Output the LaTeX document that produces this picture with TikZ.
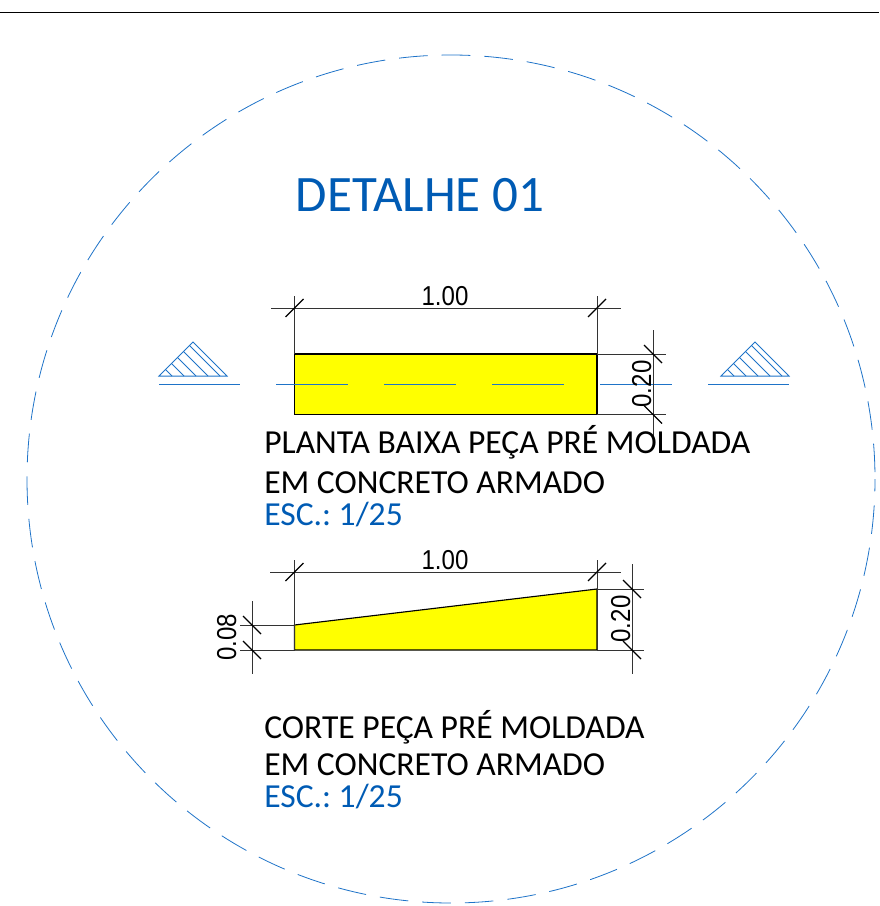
\documentclass[tikz,border=0pt]{standalone}
\usepackage{fontspec}
\setmainfont{Carlito}
\newfontfamily\dimfont{Liberation Sans}
\definecolor{detblue}{RGB}{0,91,180}
\definecolor{linblue}{RGB}{30,115,200}
\definecolor{pecayellow}{RGB}{255,255,0}
\frenchspacing
\tikzset{
	dimline/.style={line width=.7pt,color=black!80},
	tickline/.style={line width=1pt,color=black},
	cutline/.style={line width=.75pt,color=linblue},
	peca/.style={fill=pecayellow,draw=black,line width=.85pt},
	titulo/.style={anchor=base west,font=\fontsize{25.2}{28}\selectfont,inner sep=0pt},
	escala/.style={anchor=base west,font=\fontsize{25.2}{28}\selectfont,inner sep=0pt,text=detblue},
	cota/.style={font=\dimfont\fontsize{20.5}{22}\selectfont,inner sep=0pt,xscale=.88}
}
\begin{document}
\begin{tikzpicture}[x=.75pt,y=-.75pt]
\useasboundingbox (0,0) rectangle (879,906);
\draw[line width=.75pt,color=black] (0,12.5)--(879,12.5);
\draw[line width=.6pt,color=linblue,dash pattern=on 21.5pt off 10.5pt,dash phase=26.9pt] (451,479) circle[radius=318pt];
\node[anchor=base,font=\fontsize{38.3}{44}\selectfont,text=detblue,inner sep=0pt] (detalhe) at (420,211){DETALHE 01};
% cut marks
\foreach \xa/\name in {159/esq,721/dir}{
	\draw[cutline] (\xa,376)--(\xa+34,342)--(\xa+68,376)--cycle;
	\foreach \i in {13,25,37,49,61}{
		\draw[cutline,line width=.6pt] (\xa+\i,376)--(\xa+\i/2,376-\i/2);
	}
}
\draw[cutline] (159,384.5)--(240,384.5);
\draw[cutline] (708,384.5)--(789,384.5);
% plan
\draw[peca] (294.5,354) rectangle (597,414.5);
\foreach \xa in {276,384,492,600}{
	\draw[cutline] (\xa,384.5)--(\xa+72,384.5);
}
\draw[dimline] (271,308)--(621,308);
\draw[dimline] (294.5,296)--(294.5,354);
\draw[dimline] (597,296)--(597,354);
\draw[dimline] (597,354)--(666,354);
\draw[dimline] (597,414.5)--(666,414.5);
\draw[dimline] (653,330)--(653,438);
\foreach \xa/\ya in {294.5/308,597/308}{
	\draw[tickline] (\xa-9,\ya+9)--(\xa+9,\ya-9);
}
\foreach \xa/\ya in {653/354,653/414.5}{
	\draw[tickline] (\xa-9,\ya-9)--(\xa+9,\ya+9);
}
\node[cota,anchor=base] (plantaw) at (445,305){1.00};
\node[rotate=90,cota,anchor=base] (plantah) at (651,384){0.20};
\node[titulo] (plantaa) at (264,453.5){PLANTA BAIXA PEÇA PRÉ MOLDADA};
\node[titulo] (plantab) at (264,493.5){EM CONCRETO ARMADO};
\node[escala] (plantac) at (264,525.5){ESC.: 1/25};
% section
\draw[peca] (294.5,625)--(597,589)--(597,650)--(294.5,650)--cycle;
\draw[dimline] (270,572)--(621,572);
\draw[dimline] (294.5,560)--(294.5,650);
\draw[dimline] (597,560)--(597,650);
\draw[dimline] (597,589)--(644,589);
\draw[dimline] (597,650)--(644,650);
\draw[dimline] (632,564)--(632,674);
\draw[dimline] (240,625)--(294.5,625);
\draw[dimline] (240,650)--(294.5,650);
\draw[dimline] (252,601)--(252,674);
\foreach \xa/\ya in {294.5/572,597/572}{
	\draw[tickline] (\xa-9,\ya+9)--(\xa+9,\ya-9);
}
\foreach \xa/\ya in {632/589,632/650,252/625,252/650}{
	\draw[tickline] (\xa-9,\ya-9)--(\xa+9,\ya+9);
}
\node[cota,anchor=base] (cortew) at (445,569){1.00};
\node[rotate=90,cota,anchor=base] (corteh) at (630,619){0.20};
\node[rotate=90,cota,anchor=base] (cortep) at (236,637.5){0.08};
\node[titulo] (cortea) at (264,738.5){CORTE PEÇA PRÉ MOLDADA};
\node[titulo] (corteb) at (264,775.5){EM CONCRETO ARMADO};
\node[escala] (cortec) at (264,807.5){ESC.: 1/25};
\end{tikzpicture}
\end{document}
